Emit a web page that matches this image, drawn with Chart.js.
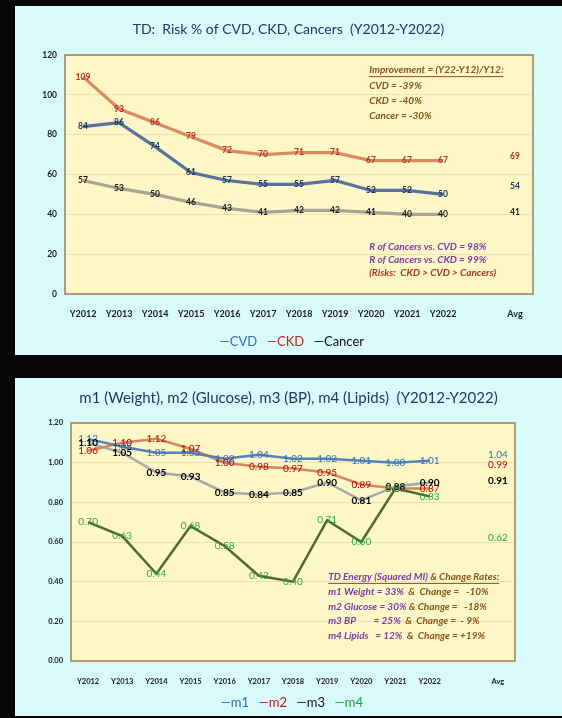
<!DOCTYPE html>
<html>
<head>
<meta charset="utf-8">
<script src="https://cdn.jsdelivr.net/npm/chart.js@4.4.0/dist/chart.umd.min.js"></script>
<style>
  html, body { margin: 0; padding: 0; background: #070707; }
  body { width: 562px; height: 718px; position: relative; overflow: hidden; }
  .panel { position: absolute; left: 15px; width: 547px; background: #d9fafa; }
  #panelTop { top: 6px; height: 349px; }
  #panelBottom { top: 378px; height: 338px; }
</style>
</head>
<body>
<div class="panel" id="panelTop"><canvas id="riskChart" width="547" height="349"></canvas></div>
<div class="panel" id="panelBottom"><canvas id="metricChart" width="547" height="338"></canvas></div>
<script>
// categories
const years = ['Y2012', 'Y2013', 'Y2014', 'Y2015', 'Y2016', 'Y2017', 'Y2018', 'Y2019', 'Y2020', 'Y2021', 'Y2022'];
const xLabels = [...years, '', 'Avg'];

// chart 1: risk %
const cvd = [84, 86, 74, 61, 57, 55, 55, 57, 52, 52, 50];
const ckd = [109, 93, 86, 79, 72, 70, 71, 71, 67, 67, 67];
const cancer = [57, 53, 50, 46, 43, 41, 42, 42, 41, 40, 40];
const riskAvg = [54, 69, 41]; // cvd, ckd, cancer
const riskTicks = [0, 20, 40, 60, 80, 100, 120];

// chart 2: m1..m4
const m1 = [1.12, 1.08, 1.05, 1.05, 1.02, 1.04, 1.02, 1.02, 1.01, 1.00, 1.01];
const m2 = [1.06, 1.10, 1.12, 1.07, 1.00, 0.98, 0.97, 0.95, 0.89, 0.87, 0.87];
const m3 = [1.10, 1.05, 0.95, 0.93, 0.85, 0.84, 0.85, 0.90, 0.81, 0.88, 0.90];
const m4 = [0.70, 0.63, 0.44, 0.68, 0.58, 0.43, 0.40, 0.71, 0.60, 0.87, 0.83];
const metricAvg = [1.04, 0.99, 0.91, 0.62];
const metricTicks = [0, 0.2, 0.4, 0.6, 0.8, 1.0, 1.2];

const FONT = 'Lato, "Open Sans", sans-serif';
const BROWN = '#8a5318';
const PURPLE = '#7a3aa8';

// series + gap + average in the last slot
function withAvg(values, avg) {
    return [...values, null, avg];
}

// yellow plot box with border
const plotFrame = {
    id: 'plotFrame',
    beforeDraw(chart) {
        const {ctx, chartArea: a} = chart;
        ctx.save();
        ctx.fillStyle = '#fdf6c7';
        ctx.fillRect(a.left, a.top, a.width, a.height);
        ctx.restore();
    },
    beforeDatasetsDraw(chart) {
        const {ctx, chartArea: a} = chart;
        ctx.save();
        ctx.strokeStyle = '#94835a';
        ctx.lineWidth = 1.5;
        ctx.strokeRect(a.left, a.top, a.width, a.height);
        ctx.restore();
    }
};

// value labels on every point
const pointLabels = {
    id: 'pointLabels',
    afterDatasetsDraw(chart, args, opts) {
        const {ctx} = chart;
        chart.data.datasets.forEach((ds, i) => {
            const meta = chart.getDatasetMeta(i);
            ctx.save();
            ctx.font = ds.labelFont;
            ctx.fillStyle = ds.labelColor;
            ctx.textAlign = 'center';
            ctx.textBaseline = 'middle';
            meta.data.forEach((pt, j) => {
                const v = ds.data[j];
                if (v === null || v === undefined) return;
                ctx.fillText(opts.format(v), pt.x, pt.y);
            });
            ctx.restore();
        });
    }
};

// text notes anchored to category index / axis value
const notes = {
    id: 'notes',
    afterDraw(chart, args, opts) {
        const {ctx, scales} = chart;
        ctx.save();
        ctx.font = opts.font;
        ctx.textBaseline = 'middle';
        opts.lines.forEach(line => {
            const x0 = scales.x.getPixelForValue(line.at[0]);
            const y0 = scales.y.getPixelForValue(line.at[1]);
            let x = x0;
            line.parts.forEach(([text, color]) => {
                ctx.fillStyle = color;
                ctx.fillText(text, x, y0);
                x += ctx.measureText(text).width;
            });
            if (line.underline) {
                ctx.strokeStyle = line.parts[line.parts.length - 1][1];
                ctx.lineWidth = 1;
                ctx.beginPath();
                ctx.moveTo(x0, y0 + 6.5);
                ctx.lineTo(x, y0 + 6.5);
                ctx.stroke();
            }
        });
        ctx.restore();
    }
};

function dashLegend(fontSize) {
    return {
        position: 'bottom',
        maxHeight: fontSize + 10,
        labels: {
            boxWidth: 0,
            boxHeight: 0,
            padding: 3,
            font: {family: FONT, size: fontSize},
            generateLabels(chart) {
                return chart.data.datasets.map((ds, i) => ({
                    text: '\u2014' + ds.label,
                    fontColor: ds.legendColor,
                    fillStyle: 'rgba(0,0,0,0)',
                    strokeStyle: 'rgba(0,0,0,0)',
                    lineWidth: 0,
                    hidden: false,
                    datasetIndex: i
                }));
            }
        }
    };
}

function spacerAxis(width) {
    return {
        position: 'right',
        display: true,
        grid: {display: false},
        border: {display: false},
        ticks: {display: false},
        afterFit(scale) { scale.width = width; }
    };
}

function makeLine(label, values, avg, lineColor, labelColor, legendColor, labelFont, width) {
    return {
        label: label,
        data: withAvg(values, avg),
        borderColor: lineColor,
        backgroundColor: lineColor,
        borderWidth: width,
        pointRadius: 0,
        tension: 0,
        spanGaps: false,
        labelColor: labelColor,
        legendColor: legendColor,
        labelFont: labelFont
    };
}

// ---- Chart 1 ----
const riskLabelFont = 'bold 8.5px ' + FONT;
new Chart(document.getElementById('riskChart'), {
    type: 'line',
    data: {
        labels: xLabels,
        datasets: [
            makeLine('CVD', cvd, riskAvg[0], '#58719f', '#1f3560', '#2f6fb0', riskLabelFont, 3.2),
            makeLine('CKD', ckd, riskAvg[1], '#dc8b5e', '#b5322a', '#c0241c', riskLabelFont, 3.2),
            makeLine('Cancer', cancer, riskAvg[2], '#a9a393', '#1c1c1c', '#111111', riskLabelFont, 3.2)
        ]
    },
    options: {
        responsive: false,
        animation: false,
        layout: {padding: 0},
        scales: {
            x: {
                offset: true,
                grid: {display: false, offset: true},
                border: {display: false},
                ticks: {padding: 7, color: '#1a1a1a', font: {family: FONT, size: 9, weight: 'bold'}, autoSkip: false, maxRotation: 0},
                afterFit(scale) { scale.height = 38; }
            },
            y: {
                min: 0,
                max: 120,
                afterBuildTicks(scale) { scale.ticks = riskTicks.map(v => ({value: v})); },
                grid: {color: '#ece1b2', lineWidth: 1, drawTicks: false},
                border: {display: false},
                ticks: {padding: 8, color: '#1a1a1a', font: {family: FONT, size: 8.5, weight: 'bold'}},
                afterFit(scale) { scale.width = 50; }
            },
            yRight: spacerAxis(29)
        },
        plugins: {
            title: {
                display: true,
                text: 'TD:  Risk % of CVD, CKD, Cancers  (Y2012-Y2022)',
                color: '#1f3864',
                font: {family: FONT, size: 14, weight: 'normal'},
                padding: {top: 15.5, bottom: 16.7}
            },
            legend: dashLegend(13),
            tooltip: {enabled: false},
            pointLabels: {format: v => String(v)},
            notes: {
                font: 'italic bold 10px ' + FONT,
                lines: [
                    {at: [7.95, 112.4], parts: [['Improvement = (Y22-Y12)/Y12:', BROWN]], underline: true},
                    {at: [7.95, 104.6], parts: [['CVD = -39%', BROWN]]},
                    {at: [7.95, 97.0], parts: [['CKD = -40%', BROWN]]},
                    {at: [7.95, 89.4], parts: [['Cancer = -30%', BROWN]]},
                    {at: [7.95, 23.7], parts: [['R of Cancers vs. CVD = 98%', PURPLE]]},
                    {at: [7.95, 17.1], parts: [['R of Cancers vs. CKD = 99%', PURPLE]]},
                    {at: [7.95, 10.5], parts: [['(Risks:  CKD > CVD > Cancers)', '#a8381e']]}
                ]
            }
        }
    },
    plugins: [plotFrame, pointLabels, notes]
});

// ---- Chart 2 ----
const metricLabelFont = '10px ' + FONT;
new Chart(document.getElementById('metricChart'), {
    type: 'line',
    data: {
        labels: xLabels,
        datasets: [
            makeLine('m1', m1, metricAvg[0], '#5580b8', '#2e75b6', '#1f6fb0', metricLabelFont, 2.5),
            makeLine('m2', m2, metricAvg[1], '#d3875a', '#c00000', '#c0141c', metricLabelFont, 2.5),
            makeLine('m3', m3, metricAvg[2], '#a8a8a8', '#000000', '#111111', 'bold 10px ' + FONT, 2.5),
            makeLine('m4', m4, metricAvg[3], '#4f6a2a', '#2aa84a', '#1e9e48', metricLabelFont, 2.5)
        ]
    },
    options: {
        responsive: false,
        animation: false,
        layout: {padding: 0},
        scales: {
            x: {
                offset: true,
                grid: {display: false, offset: true},
                border: {display: false},
                ticks: {padding: 8, color: '#1a1a1a', font: {family: FONT, size: 7.5, weight: 'bold'}, autoSkip: false, maxRotation: 0},
                afterFit(scale) { scale.height = 32; }
            },
            y: {
                min: 0,
                max: 1.2,
                afterBuildTicks(scale) { scale.ticks = metricTicks.map(v => ({value: v})); },
                grid: {color: '#ece1b2', lineWidth: 1, drawTicks: false},
                border: {display: false},
                ticks: {padding: 8, color: '#1a1a1a', font: {family: FONT, size: 7.5, weight: 'bold'}, callback: v => Number(v).toFixed(2)},
                afterFit(scale) { scale.width = 56; }
            },
            yRight: spacerAxis(47)
        },
        plugins: {
            title: {
                display: true,
                text: 'm1 (Weight), m2 (Glucose), m3 (BP), m4 (Lipids)  (Y2012-Y2022)',
                color: '#1f3864',
                font: {family: FONT, size: 15, weight: 'normal'},
                padding: {top: 11, bottom: 16}
            },
            legend: dashLegend(13),
            tooltip: {enabled: false},
            pointLabels: {format: v => v.toFixed(2)},
            notes: {
                font: 'italic bold 10px ' + FONT,
                lines: [
                    {at: [7.03, 0.424], parts: [['TD Energy (Squared MI)', PURPLE], [' & Change Rates:', BROWN]], underline: true},
                    {at: [7.03, 0.348], parts: [['m1 Weight = 33%', PURPLE], ['  &  Change =   -10%', BROWN]]},
                    {at: [7.03, 0.275], parts: [['m2 Glucose = 30%', PURPLE], [' & Change =   -18%', BROWN]]},
                    {at: [7.03, 0.201], parts: [['m3 BP        = 25%', PURPLE], ['  &  Change =  - 9%', BROWN]]},
                    {at: [7.03, 0.126], parts: [['m4 Lipids   = 12%', PURPLE], ['  &  Change = +19%', BROWN]]}
                ]
            }
        }
    },
    plugins: [plotFrame, pointLabels, notes]
});
</script>
</body>
</html>
